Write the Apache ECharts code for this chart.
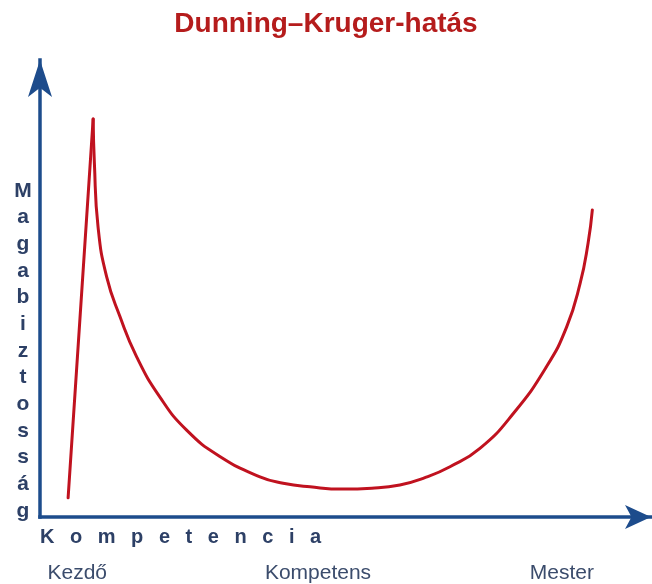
<!DOCTYPE html>
<html>
<head>
<meta charset="utf-8">
<style>
  html, body { margin: 0; padding: 0; background: #ffffff; }
  #chart { width: 652px; height: 584px; }
</style>
<script src="https://cdn.jsdelivr.net/npm/echarts@6/dist/echarts.min.js"></script>
</head>
<body>
<div id="chart"></div>
<script>
// Competence levels shown under the horizontal axis
const levelLabels = ['Kezdő', 'Kompetens', 'Mester'];
const levelPositions = [6.1, 45.5, 85.4];

// Early overconfidence: the steep climb to the peak
const riseCompetence = [4.6, 8.7];
const riseConfidence = [4.2, 87.1];

// The slide into the valley and the slow recovery
const curveCompetence = [8.7, 8.9, 9.5, 10.9, 13.1, 15.8, 19.6, 24.0, 29.5, 36.0, 39.8, 44.2, 49.6, 54.3, 58.9, 63.0, 67.1, 72.0, 77.5, 82.9, 86.2, 88.4, 89.7, 90.4];
const curveConfidence = [87.1, 77.5, 63.5, 52.6, 43.8, 35.1, 26.3, 19.0, 13.2, 8.8, 7.4, 6.6, 6.1, 6.3, 7.0, 8.6, 11.0, 15.0, 22.7, 32.9, 41.6, 51.1, 59.9, 67.2];

const yAxisTitle = 'Magabiztosság';
const xAxisTitle = 'Kompetencia';

const pairs = (xs, ys) => xs.map((x, i) => [x, ys[i]]);

const axisBlue = '#1d4c8c';
const textBlue = '#2d4066';
const curveRed = '#c0121f';
const font = 'Liberation Sans, Arial, sans-serif';

const chart = echarts.init(document.getElementById('chart'), null, { renderer: 'canvas' });

chart.setOption({
  animation: false,
  backgroundColor: '#ffffff',
  title: {
    text: 'Dunning–Kruger-hatás',
    left: 'center',
    top: 10,
    padding: 0,
    textStyle: {
      color: '#b51c1c',
      fontFamily: font,
      fontWeight: 'bold',
      fontSize: 28,
      lineHeight: 28
    }
  },
  grid: { left: 40, right: 1, top: 60, bottom: 67, containLabel: false },
  xAxis: {
    type: 'value',
    min: 0,
    max: 100,
    name: xAxisTitle.split('').join('\u2002 '),
    nameLocation: 'start',
    nameGap: 0,
    nameTextStyle: {
      align: 'left',
      verticalAlign: 'top',
      padding: [10, 0, 0, 0],
      color: textBlue,
      fontFamily: font,
      fontWeight: 'bold',
      fontSize: 20,
      lineHeight: 20
    },
    axisLine: {
      show: true,
      symbol: ['none', 'arrow'],
      symbolSize: [18, 26],
      lineStyle: { color: axisBlue, width: 3.5, cap: 'square' }
    },
    axisTick: { show: false },
    splitLine: { show: false },
    axisLabel: {
      show: true,
      customValues: levelPositions,
      formatter: (v) => {
        const i = levelPositions.indexOf(v);
        return i >= 0 ? levelLabels[i] : '';
      },
      margin: 46,
      color: '#3b4c6c',
      fontFamily: font,
      fontSize: 21,
      lineHeight: 21,
      showMinLabel: true,
      showMaxLabel: true,
      hideOverlap: false
    }
  },
  yAxis: {
    type: 'value',
    min: 0,
    max: 100,
    // a spacer line on top pushes the stacked letters down the axis
    name: '{gap| }\n' + yAxisTitle.split('').join('\n'),
    nameLocation: 'middle',
    nameRotate: 0,
    nameGap: 17,
    nameTextStyle: {
      align: 'center',
      verticalAlign: 'middle',
      color: textBlue,
      fontFamily: font,
      fontWeight: 'bold',
      fontSize: 21,
      lineHeight: 26.67,
      rich: {
        gap: { height: 124.5, lineHeight: 124.5, fontSize: 4 }
      }
    },
    axisLine: {
      show: true,
      symbol: ['none', 'arrow'],
      symbolSize: [18, 37],
      lineStyle: { color: axisBlue, width: 3.5, cap: 'square' }
    },
    axisTick: { show: false },
    splitLine: { show: false },
    axisLabel: { show: false }
  },
  series: [
    {
      name: 'rise',
      type: 'line',
      data: pairs(riseCompetence, riseConfidence),
      showSymbol: false,
      lineStyle: { color: curveRed, width: 3, cap: 'round', join: 'round' },
      z: 3
    },
    {
      name: 'valley',
      type: 'line',
      data: pairs(curveCompetence, curveConfidence),
      smooth: 0.5,
      showSymbol: false,
      lineStyle: { color: curveRed, width: 3, cap: 'round', join: 'round' },
      z: 3
    }
  ]
});
</script>
</body>
</html>
